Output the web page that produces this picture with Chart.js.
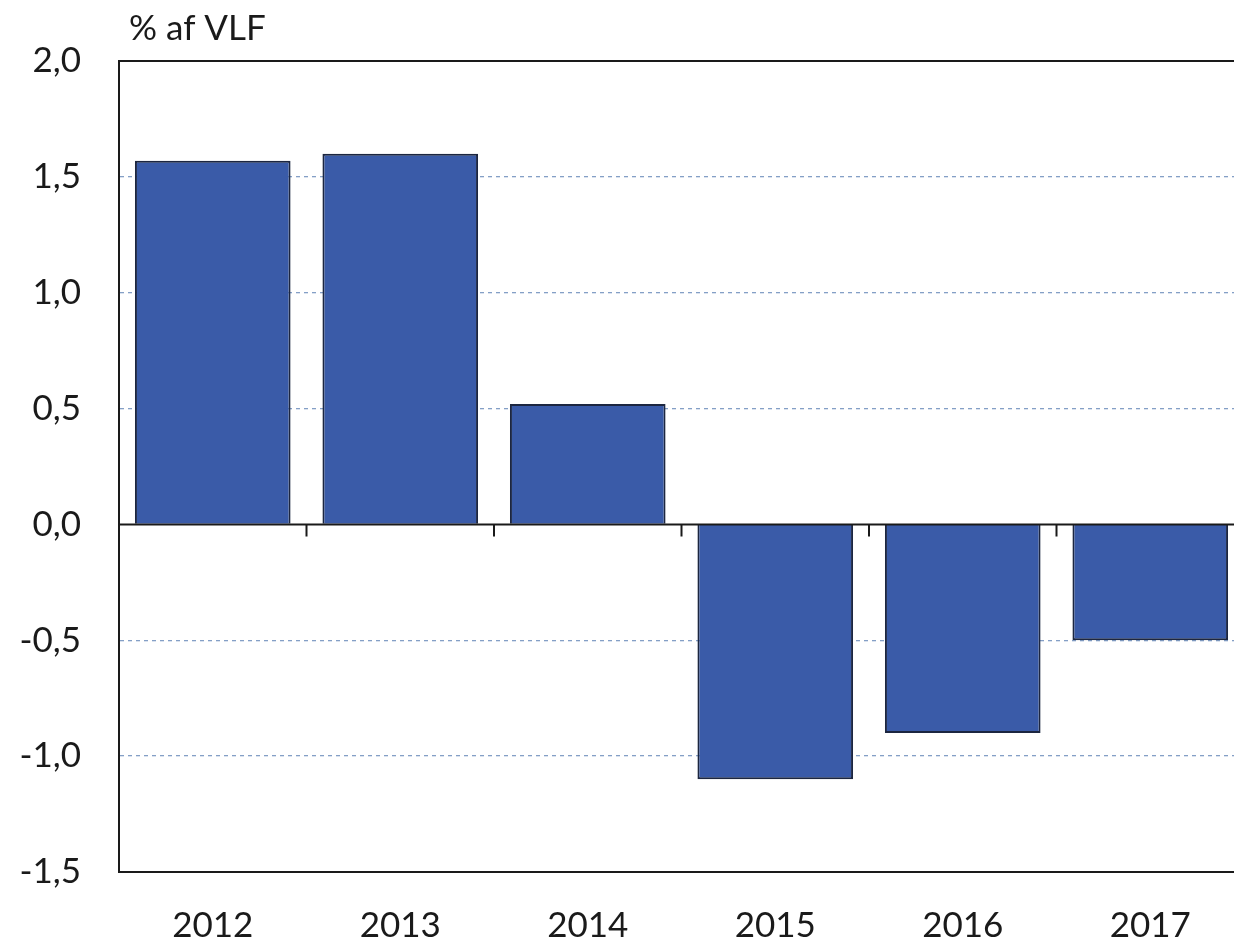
<!DOCTYPE html>
<html>
<head>
<meta charset="utf-8">
<script src="https://cdn.jsdelivr.net/npm/chart.js@4/dist/chart.umd.min.js"></script>
<style>
  html, body { margin: 0; padding: 0; background: #fff; overflow: hidden; }
  #wrap { width: 1250px; height: 943px; position: relative; }
</style>
</head>
<body>
<div id="wrap"><canvas id="myChart"></canvas></div>
<script>
var years = ['2012', '2013', '2014', '2015', '2016', '2017'];
var values = [1.57, 1.6, 0.52, -1.1, -0.9, -0.5];
var unitLabel = '% af VLF';

var fontFamily = 'Lato, "Open Sans", sans-serif';

// frame, zero line, category ticks and unit label
var framePlugin = {
  id: 'frame',
  afterDatasetsDraw: function(chart) {
    var c = chart.ctx, a = chart.chartArea;
    var x = chart.scales.x, y = chart.scales.y;
    var y0 = y.getPixelForValue(0);
    c.save();
    c.strokeStyle = '#1a1a1a';
    c.lineWidth = 2;
    c.beginPath();
    c.moveTo(a.left, a.top); c.lineTo(a.right, a.top);
    c.moveTo(a.right, a.top); c.lineTo(a.right, a.bottom);
    c.moveTo(a.left, y0); c.lineTo(a.right, y0);
    for (var i = 0; i < years.length - 1; i++) {
      var bx = (x.getPixelForValue(i) + x.getPixelForValue(i + 1)) / 2;
      c.moveTo(bx, y0); c.lineTo(bx, y0 + 12);
    }
    c.stroke();
    c.fillStyle = '#1a1a1a';
    c.font = '35px ' + fontFamily;
    c.textBaseline = 'middle';
    c.textAlign = 'left';
    c.fillText(unitLabel, 129, 29);
    c.restore();
  }
};

var ctx = document.getElementById('myChart').getContext('2d');
var myChart = new Chart(ctx, {
  type: 'bar',
  data: {
    labels: years,
    datasets: [{
      data: values,
      backgroundColor: '#3a5ba8',
      borderColor: '#1c2640',
      borderWidth: 2,
      categoryPercentage: 1,
      barPercentage: 0.83
    }]
  },
  plugins: [framePlugin],
  options: {
    responsive: true,
    maintainAspectRatio: false,
    animation: false,
    layout: { padding: { top: 61, right: 6, bottom: 0, left: 0 } },
    plugins: {
      legend: { display: false },
      tooltip: { enabled: false }
    },
    scales: {
      x: {
        grid: { display: false, drawTicks: false },
        border: { display: true, color: '#1a1a1a', width: 2 },
        ticks: {
          color: '#1a1a1a',
          font: { family: fontFamily, size: 35 },
          padding: 33,
          maxRotation: 0
        },
        afterFit: function(s) { s.height = 71; }
      },
      y: {
        min: -1.5,
        max: 2,
        grid: {
          drawTicks: false,
          lineWidth: 1.3,
          color: function(c) {
            var v = c.tick ? c.tick.value : null;
            if (v === 0 || v === 2 || v === -1.5) return 'rgba(0,0,0,0)';
            return '#849fc6';
          }
        },
        border: { display: true, color: '#1a1a1a', width: 2, dash: [4, 4] },
        ticks: {
          stepSize: 0.5,
          color: '#1a1a1a',
          font: { family: fontFamily, size: 35 },
          padding: 38,
          callback: function(v) { return v.toFixed(1).replace('.', ','); }
        },
        afterFit: function(s) { s.width = 119; }
      }
    }
  }
});
</script>
</body>
</html>
